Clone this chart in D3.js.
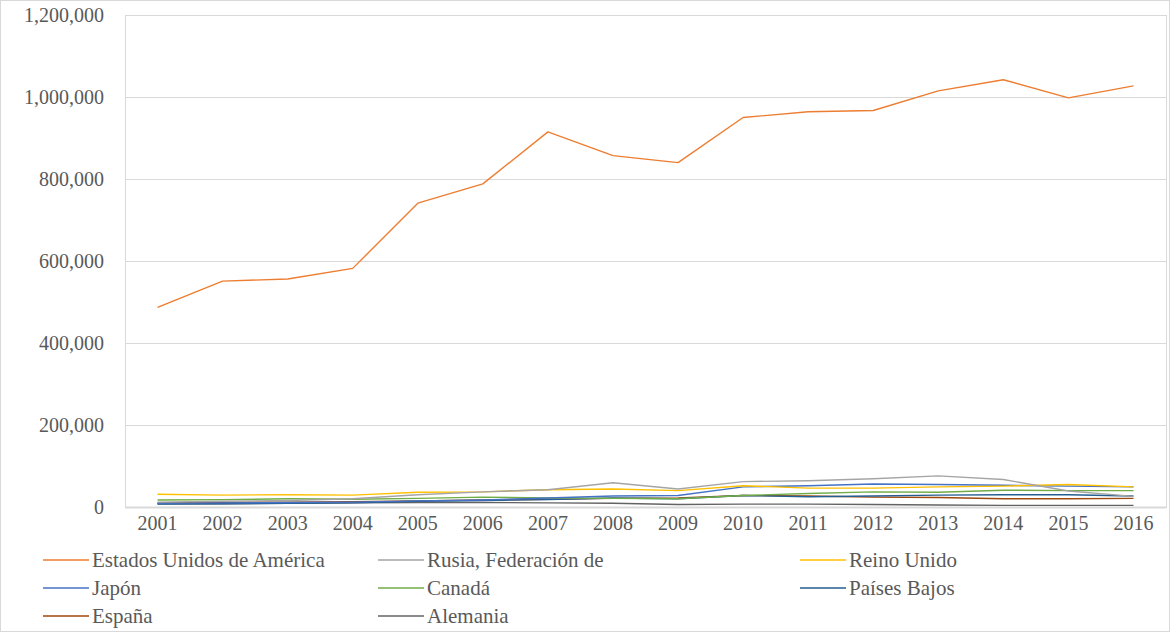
<!DOCTYPE html>
<html>
<head>
<meta charset="utf-8">
<script src="https://cdn.jsdelivr.net/npm/d3@7"></script>
<style>
  body { margin: 0; background: #fff; }
  svg text { font-family: "Liberation Serif", "Times New Roman", Tinos, "DejaVu Serif", serif; fill: #595959; }
</style>
</head>
<body>
<script>
var width = 1171;
var height = 633;

var years = ["2001","2002","2003","2004","2005","2006","2007","2008","2009","2010","2011","2012","2013","2014","2015","2016"];
var seriesNames = ["Estados Unidos de América", "Rusia, Federación de", "Reino Unido", "Japón", "Canadá", "Países Bajos", "España", "Alemania"];
var usa = [487000, 551000, 556000, 582000, 741000, 788000, 915000, 857000, 840000, 950000, 964000, 967000, 1015000, 1042000, 998000, 1027000];
var rusia = [12000, 14000, 16000, 20000, 30000, 37000, 42000, 59000, 44000, 62000, 64000, 69000, 76000, 67000, 39000, 26000];
var reinoUnido = [31000, 29000, 30000, 29000, 36000, 37000, 42000, 44000, 40000, 52000, 46000, 46000, 49000, 51000, 55000, 49000];
var japon = [9000, 10000, 11000, 12000, 15000, 17000, 22000, 27000, 28000, 49000, 52000, 56000, 55000, 53000, 51000, 49000];
var canada = [17000, 18000, 20000, 19000, 21000, 24000, 22000, 21000, 20000, 28000, 33000, 37000, 36000, 41000, 40000, 40000];
var paisesBajos = [7000, 8000, 9000, 10000, 14000, 16000, 18000, 22000, 20000, 28000, 25000, 27000, 29000, 30000, 30000, 27000];
var espana = [10000, 11000, 12000, 13000, 15000, 17000, 19000, 21000, 22000, 28000, 27000, 24000, 23000, 20000, 20000, 21000];
var alemania = [8000, 8000, 9000, 10000, 11000, 11000, 10000, 9000, 6000, 7000, 7000, 6000, 5000, 4000, 4000, 4000];
var yTicks = [0, 200000, 400000, 600000, 800000, 1000000, 1200000];

var colors = ["#ED7D31", "#A5A5A5", "#FFC000", "#4472C4", "#70AD47", "#255E91", "#9E480E", "#636363"];
var values = [usa, rusia, reinoUnido, japon, canada, paisesBajos, espana, alemania];
var series = seriesNames.map((name, i) => ({name: name, color: colors[i], values: values[i]}));

var fontFamily = '"Liberation Serif", "Times New Roman", Tinos, "DejaVu Serif", serif';
var margin = {top: 15, left: 125, right: 5, bottom: 126};

var svg = d3.select("body").append("svg")
    .attr("width", width)
    .attr("height", height);

// chart frame
svg.append("rect")
    .attr("x", 0.5).attr("y", 0.5)
    .attr("width", width - 2).attr("height", height - 2)
    .attr("fill", "#fff")
    .attr("stroke", "#d9d9d9");

var x = d3.scaleBand()
    .domain(years)
    .range([margin.left, width - margin.right]);

var y = d3.scaleLinear()
    .domain([0, 1200000])
    .range([height - margin.bottom, margin.top]);

// gridlines
svg.append("g")
    .selectAll("line")
    .data(yTicks)
    .enter()
    .append("line")
      .attr("x1", margin.left)
      .attr("x2", width - margin.right)
      .attr("y1", d => Math.round(y(d)) + 0.5)
      .attr("y2", d => Math.round(y(d)) + 0.5)
      .attr("stroke", "#d9d9d9")
      .attr("stroke-width", d => d === 0 ? 2 : 1);

// plot area border
svg.append("rect")
    .attr("x", margin.left + 0.5)
    .attr("y", margin.top + 0.5)
    .attr("width", width - margin.right - margin.left)
    .attr("height", y(0) - margin.top)
    .attr("fill", "none")
    .attr("stroke", "#d9d9d9");

// y axis labels
var yAxis = d3.axisLeft(y)
    .tickValues(yTicks)
    .tickSize(0)
    .tickPadding(21)
    .tickFormat(d3.format(","));

svg.append("g")
    .attr("transform", `translate(${margin.left},0)`)
    .call(yAxis)
    .attr("font-family", null)
    .attr("font-size", null)
    .call(g => g.select(".domain").remove())
    .selectAll("text")
      .style("font-family", fontFamily)
      .style("font-size", "20px")
      .attr("fill", "#595959");

// x axis labels
var xAxis = d3.axisBottom(x)
    .tickSize(0)
    .tickPadding(9);

svg.append("g")
    .attr("transform", `translate(0,${y(0)})`)
    .call(xAxis)
    .attr("font-family", null)
    .attr("font-size", null)
    .call(g => g.select(".domain").remove())
    .selectAll("text")
      .style("font-family", fontFamily)
      .style("font-size", "20px")
      .attr("fill", "#595959");

var line = d3.line()
    .x((d, i) => x(years[i]) + x.bandwidth() / 2)
    .y(d => y(d));

// draw smaller series first so USA stays on top
svg.append("g")
    .selectAll("path")
    .data(series.slice().reverse())
    .enter()
    .append("path")
      .attr("fill", "none")
      .attr("stroke", d => d.color)
      .attr("stroke-width", 1.4)
      .attr("stroke-linejoin", "round")
      .attr("d", d => line(d.values));

// legend
var legendCols = [43, 378, 800];
var legendRows = [560, 588, 616];

var legend = svg.append("g")
    .selectAll("g")
    .data(series)
    .enter()
    .append("g")
      .attr("transform", (d, i) => `translate(${legendCols[i % 3]},${legendRows[Math.floor(i / 3)]})`);

legend.append("line")
    .attr("x1", 0)
    .attr("x2", 46)
    .attr("stroke", d => d.color)
    .attr("stroke-width", 1.5);

legend.append("text")
    .attr("x", 49)
    .attr("dy", "0.35em")
    .style("font-family", fontFamily)
    .style("font-size", "21px")
    .text(d => d.name);
</script>
</body>
</html>
